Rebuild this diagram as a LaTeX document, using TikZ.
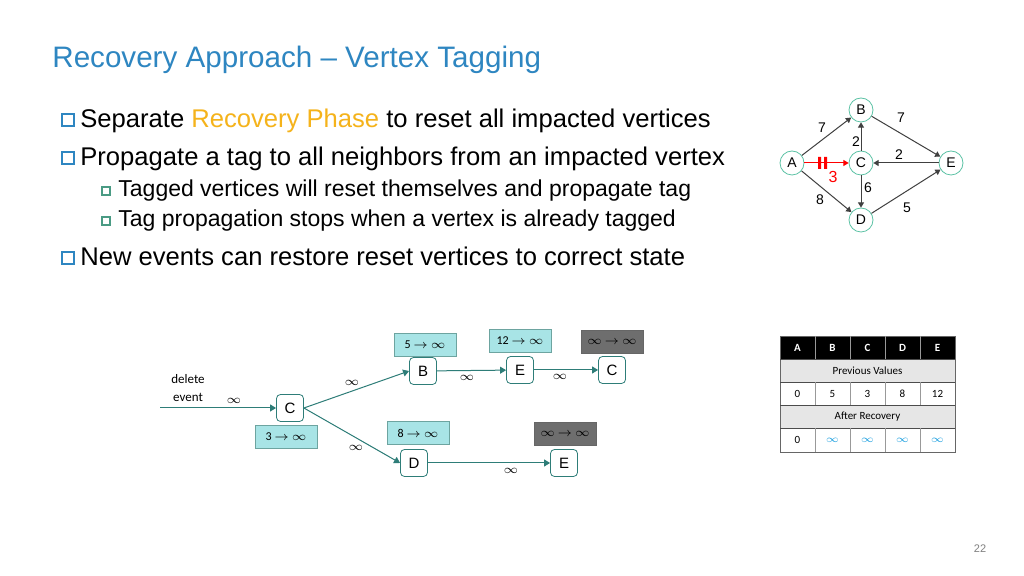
\documentclass[tikz,border=0pt]{standalone}
\usepackage{fontspec}
\setmainfont{Liberation Sans}
\newfontfamily\calib{Carlito}
\usetikzlibrary{calc}
\usetikzlibrary{arrows.meta}
\usetikzlibrary{positioning}
\definecolor{titleblue}{HTML}{2E86C1}
\definecolor{recov}{HTML}{F5B31B}
\definecolor{teal}{HTML}{2E7D78}
\definecolor{nodeedge}{HTML}{5CC2A5}
\definecolor{tagfill}{HTML}{A8E4E6}
\definecolor{taggray}{HTML}{6E6E6E}
\definecolor{hdrgray}{HTML}{E6E6E6}
\definecolor{infblue}{HTML}{1EA0E0}
\tikzset{
	bullet/.style={draw=titleblue, line width=0.6pt, minimum size=6pt, inner sep=0pt},
	subbullet/.style={draw=nodeedge!80!black, line width=0.6pt, minimum size=4pt, inner sep=0pt},
	vtx/.style={
		draw=nodeedge,
		circle,
		fill=white,
		minimum size=12pt,
		inner sep=0pt,
		font=\fontsize{7}{8}\selectfont,
	},
	gedge/.style={
		draw=black!75,
		line width=0.5pt,
		-{Triangle[angle=60:3pt 0]}
	},
	wt/.style={font=\fontsize{7}{8}\selectfont, inner sep=1pt},
	box/.style={
		draw=teal,
		rounded corners=2pt,
		fill=white,
		minimum size=13.5pt,
		inner sep=0pt,
		font=\fontsize{7.5}{9}\selectfont,
	},
	tag/.style={
		draw=teal!70,
		fill=tagfill,
		minimum width=31pt,
		minimum height=11.5pt,
		inner sep=0pt,
		font=\calib\fontsize{6}{7}\selectfont,
	},
	deadtag/.style={tag, fill=taggray, draw=black!60},
	flow/.style={
		draw=teal,
		line width=0.5pt,
		-{Triangle[angle=60:3.5pt 0]}
	},
	inf/.style={font=\fontsize{6}{7}\selectfont, inner sep=0pt},
	cell/.style={minimum width=17.5pt, minimum height=11.5pt, inner sep=0pt,
		font=\calib\fontsize{5.5}{6}\selectfont},
}
\begin{document}
\begin{tikzpicture}[x=0.5pt,y=-0.5pt]
	\useasboundingbox (0,0) rectangle (1024,576);
	\fill[white] (0,0) rectangle (1024,576);

	\node[anchor=base west, text=titleblue, font=\fontsize{14.8}{16}\selectfont, inner sep=0pt]
		(title) at (52,68) {Recovery Approach -- Vertex Tagging};

	% bullets
	\node[bullet] (b1) at (68,120) {};
	\node[anchor=base west, inner sep=0pt, font=\fontsize{12.8}{14}\selectfont] (t1) at (80,128)
		{Separate \textcolor{recov}{Recovery Phase} to reset all impacted vertices};
	\node[bullet] (b2) at (68,158) {};
	\node[anchor=base west, inner sep=0pt, font=\fontsize{12.8}{14}\selectfont] (t2) at (80,166)
		{Propagate a tag to all neighbors from an impacted vertex};
	\node[subbullet] (b3) at (106,191) {};
	\node[anchor=base west, inner sep=0pt, font=\fontsize{11.5}{13}\selectfont] (t3) at (118,197)
		{Tagged vertices will reset themselves and propagate tag};
	\node[subbullet] (b4) at (106,221) {};
	\node[anchor=base west, inner sep=0pt, font=\fontsize{11.5}{13}\selectfont] (t4) at (118,227)
		{Tag propagation stops when a vertex is already tagged};
	\node[bullet] (b5) at (68,258) {};
	\node[anchor=base west, inner sep=0pt, font=\fontsize{12.8}{14}\selectfont] (t5) at (80,266)
		{New events can restore reset vertices to correct state};

	% small graph
	\node[vtx] (A) at (792,163) {A};
	\node[vtx] (B) at (861,110) {B};
	\node[vtx] (C) at (861,163) {C};
	\node[vtx] (D) at (861,220) {D};
	\node[vtx] (E) at (951,163) {E};

	\draw[gedge] (A) -- (B);
	\draw[gedge] (B) -- (E);
	\draw[gedge] (C) -- (B);
	\draw[gedge] (E) -- (C);
	\draw[gedge] (C) -- (D);
	\draw[gedge] (A) -- (D);
	\draw[gedge] (D) -- (E);
	\draw[gedge, draw=red, fill=red] (A) -- (C);
	\fill[red] (818,157) rectangle (821,169) (824,157) rectangle (827,169);

	\node[wt] (w1) at (822,128) {7};
	\node[wt] (w2) at (901,118) {7};
	\node[wt] (w3) at (856,142) {2};
	\node[wt] (w4) at (899,155) {2};
	\node[wt, text=red, font=\fontsize{8}{9}\selectfont] (w5) at (833,177) {3};
	\node[wt] (w6) at (868,188) {6};
	\node[wt] (w7) at (820,200) {8};
	\node[wt] (w8) at (907,208) {5};

	% tag propagation
	\coordinate (start) at (160,408);
	\node[align=center, font=\calib\fontsize{6.5}{9}\selectfont] (del) at (188,388) {delete\\event};
	\node[box] (c1) at (290,408) {C};
	\node[box] (b) at (423,371) {B};
	\node[box] (e1) at (520,370) {E};
	\node[box] (c2) at (612,370) {C};
	\node[box] (d) at (414,463) {D};
	\node[box] (e2) at (564,463) {E};

	\draw[flow] (start) -- (c1);
	\draw[flow] (c1.east) -- (b.west);
	\draw[flow] (c1.east) -- (d.west);
	\draw[flow] (b) -- (e1);
	\draw[flow] (e1) -- (c2);
	\draw[flow] (d) -- (e2);

	\node[inf] (i1) at (234,401) {$\infty$};
	\node[inf] (i2) at (352,383) {$\infty$};
	\node[inf] (i3) at (467,378) {$\infty$};
	\node[inf] (i4) at (560,377) {$\infty$};
	\node[inf] (i5) at (356,448) {$\infty$};
	\node[inf] (i6) at (511,471) {$\infty$};

	\node[tag] (tb) at (425,345) {5 $\rightarrow$ $\infty$};
	\node[tag] (te1) at (520,341) {12 $\rightarrow$ $\infty$};
	\node[deadtag] (tc2) at (612,342) {$\infty$ $\rightarrow$ $\infty$};
	\node[tag] (tc1) at (286,437) {3 $\rightarrow$ $\infty$};
	\node[tag] (td) at (418,433) {8 $\rightarrow$ $\infty$};
	\node[deadtag] (te2) at (565,434) {$\infty$ $\rightarrow$ $\infty$};

	% table
	\foreach \n [count=\i] in {A,B,C,D,E} {
		\node[cell, fill=black, text=white, font=\calib\bfseries\fontsize{5.5}{6}\selectfont]
			(h\n) at (780+35*\i-17.5,348) {\n};
	}
	\node[cell, fill=hdrgray, minimum width=87.5pt] (prev) at (867.5,371) {Previous Values};
	\foreach \v [count=\i] in {0,5,3,8,12} {
		\node[cell] (p\i) at (780+35*\i-17.5,394) {\v};
	}
	\node[cell, fill=hdrgray, minimum width=87.5pt] (after) at (867.5,417) {After Recovery};
	\node[cell] (r1) at (797.5,440) {0};
	\foreach \i in {2,...,5} {
		\node[cell, text=infblue] (r\i) at (780+35*\i-17.5,440) {$\infty$};
	}
	\draw[black!60] (780,336) rectangle (955,452);
	\foreach \y in {359.5,382.5,405.5,428.5} {
		\draw[black!70, line width=0.6pt] (780,\y) -- (955,\y);
	}
	\foreach \x in {815,850,885,920} {
		\draw[white!60!black] (\x,336) -- (\x,359.5) (\x,382.5) -- (\x,405.5) (\x,428.5) -- (\x,452);
	}

	\node[text=black!50, font=\fontsize{5.5}{6}\selectfont] (page) at (980,549) {22};
\end{tikzpicture}
\end{document}
